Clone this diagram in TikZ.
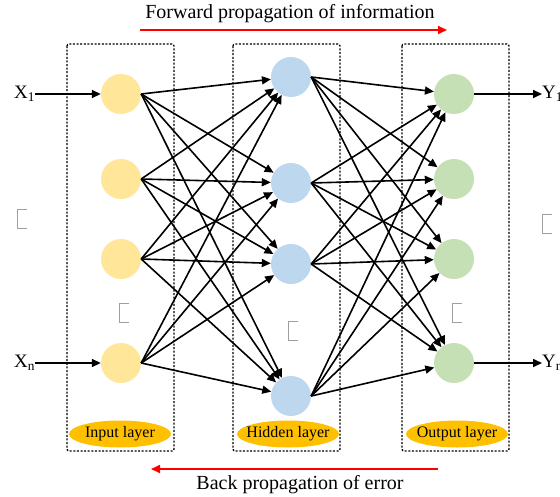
\documentclass[tikz,border=0pt]{standalone}
\usepackage{fontspec}
\setmainfont{Liberation Serif}
\usetikzlibrary{arrows.meta}
\definecolor{inyellow}{HTML}{FFE699}
\definecolor{hidblue}{HTML}{BDD7EE}
\definecolor{outgreen}{HTML}{C5E0B4}
\definecolor{tagorange}{HTML}{FFC000}
\definecolor{flowred}{HTML}{FF0000}
\tikzset{
  neuron/.style={circle, minimum size=40pt, inner sep=0pt, draw=none},
  inneuron/.style={neuron, fill=inyellow},
  hidneuron/.style={neuron, fill=hidblue},
  outneuron/.style={neuron, fill=outgreen},
  layerbox/.style={draw=black, line width=1.3pt, dash pattern=on 2pt off 1.6pt, rounded corners=2pt},
  layertag/.style={rectangle, minimum width=102pt, minimum height=27pt, inner sep=0pt,
    font=\fontsize{16}{18}\selectfont,
    path picture={\fill[tagorange] (path picture bounding box.center) ellipse [x radius=51pt, y radius=13.5pt];}},
  link/.style={draw=black, line width=1.6pt, -{Triangle[length=9pt,width=8pt]}},
  flow/.style={draw=flowred, line width=1.7pt, -{Triangle[length=9pt,width=8pt]}},
  sidelabel/.style={font=\fontsize{19}{21}\selectfont, inner sep=0pt},
  caption/.style={font=\fontsize{20}{22}\selectfont, inner sep=0pt},
  glyphbox/.pic={\draw[gray!75, line width=0.9pt] (4.5,-9.5) -- (-4.5,-9.5) -- (-4.5,9.5) -- (4.5,9.5);}
}
\begin{document}
\begin{tikzpicture}[x=1pt,y=-1pt]
\useasboundingbox (0,0) rectangle (560,496);

% layer frames
\draw[layerbox] (67,44) rectangle (174,451);
\draw[layerbox] (233,44) rectangle (340,451);
\draw[layerbox] (402,44) rectangle (509,451);

% neurons
\node[inneuron] (i1) at (121,94) {};
\node[inneuron] (i2) at (121,179) {};
\node[inneuron] (i3) at (121,259) {};
\node[inneuron] (i4) at (121,363) {};
\node[hidneuron] (h1) at (291,77) {};
\node[hidneuron] (h2) at (291,183) {};
\node[hidneuron] (h3) at (291,264) {};
\node[hidneuron] (h4) at (291,396) {};
\node[outneuron] (o1) at (454,94) {};
\node[outneuron] (o2) at (454,179) {};
\node[outneuron] (o3) at (454,259) {};
\node[outneuron] (o4) at (454,363) {};

% full connections
\foreach \a in {1,...,4}{
  \foreach \b in {1,...,4}{
    \draw[link] (i\a.east) -- (h\b);
    \draw[link] (h\a.east) -- (o\b);
  }
}

% inputs and outputs
\node[sidelabel, anchor=west] (x1) at (14,94) {X\textsubscript{1}};
\node[sidelabel, anchor=west] (xn) at (14,363) {X\textsubscript{n}};
\draw[link] (x1.east) -- (i1.west);
\draw[link] (xn.east) -- (i4.west);
\node[sidelabel, anchor=west] (y1) at (542,94) {Y\textsubscript{1}};
\node[sidelabel, anchor=west] (yn) at (542,363) {Y\textsubscript{n}};
\draw[link] (o1.east) -- (y1.west);
\draw[link] (o4.east) -- (yn.west);

% elided rows
\pic at (22,219) {glyphbox};
\pic at (124,313) {glyphbox};
\pic at (293,331) {glyphbox};
\pic at (457,313) {glyphbox};
\pic at (547,224) {glyphbox};

% layer tags
\node[layertag] (tin) at (120,434) {Input layer};
\node[layertag] (thid) at (288,434) {Hidden layer};
\node[layertag] (tout) at (457,434) {Output layer};

% propagation directions
\node[caption] (fwd) at (290,14) {Forward propagation of information};
\coordinate (fa) at (140,30);
\coordinate (fb) at (447,30);
\draw[flow] (fa) -- (fb);
\coordinate (ba) at (438,469);
\coordinate (bb) at (151,469);
\draw[flow] (ba) -- (bb);
\node[caption] (bwd) at (300,485) {Back propagation of error};
\end{tikzpicture}
\end{document}
